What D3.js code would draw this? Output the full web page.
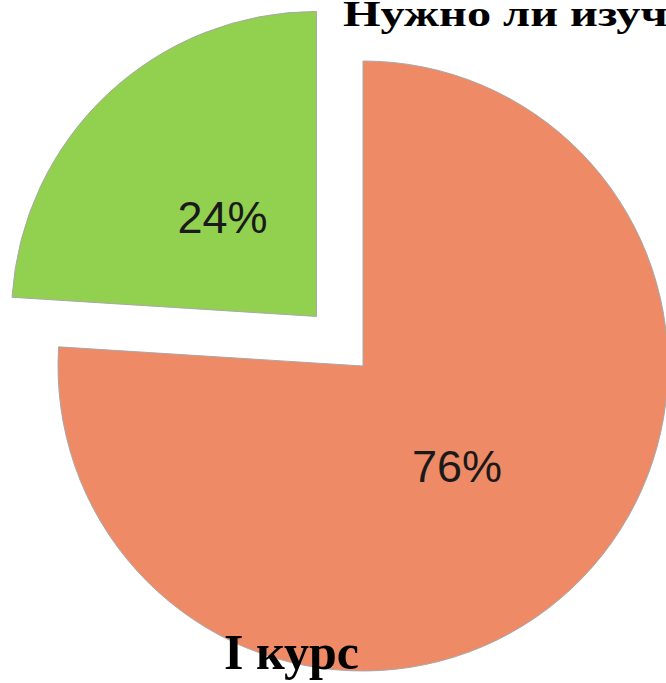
<!DOCTYPE html>
<html>
<head>
<meta charset="utf-8">
<script src="https://cdn.jsdelivr.net/npm/d3@7/dist/d3.min.js"></script>
<style>
  html, body { margin: 0; padding: 0; background: #fff; overflow: hidden; }
  svg { display: block; }
</style>
</head>
<body>
<svg id="chart" width="666" height="683"></svg>
<script>
// Survey answers, first-year students
const categories = ["Да", "Нет"];
const values = [76, 24];
const colors = ["#EE8B66", "#92D050"];
const explode = [0, 1];          // which slice is pulled out
const title = "Нужно ли изучать";
const subtitle = "I курс";

const W = 666, H = 683;
const cx = 363, cy = 366, R = 305, pullOut = 68;

const svg = d3.select("#chart");

const pie = d3.pie().sort(null).value(d => d.value);
const arcs = pie(categories.map((c, i) => ({ name: c, value: values[i], i })));
const arc = d3.arc().innerRadius(0).outerRadius(R);
const labelArc = d3.arc().innerRadius(R * 0.45).outerRadius(R * 0.45);

const total = d3.sum(values);

const g = svg.append("g").attr("transform", `translate(${cx},${cy})`);

const slice = g.selectAll("g.slice")
  .data(arcs)
  .join("g")
  .attr("class", "slice")
  .attr("transform", d => {
    if (!explode[d.data.i]) return null;
    const a = (d.startAngle + d.endAngle) / 2;
    return `translate(${Math.sin(a) * pullOut},${-Math.cos(a) * pullOut})`;
  });

slice.append("path")
  .attr("d", arc)
  .attr("fill", d => colors[d.data.i])
  .attr("stroke", "#a8a8a8")
  .attr("stroke-width", 1);

slice.append("text")
  .attr("transform", d => `translate(${labelArc.centroid(d)})`)
  .attr("text-anchor", "middle")
  .attr("dy", "0.36em")
  .attr("font-family", "Liberation Sans, Arial, sans-serif")
  .attr("font-size", 45)
  .attr("fill", "#1a1a1a")
  .text(d => Math.round(d.data.value / total * 100) + "%");

// Heading runs off the right edge of the slide
svg.append("text")
  .attr("transform", "translate(343,26) scale(1.05,0.8)")
  .attr("font-family", "Liberation Serif, Times New Roman, serif")
  .attr("font-weight", "bold")
  .attr("font-size", 46)
  .attr("fill", "#000")
  .text(title);

svg.append("text")
  .attr("x", 224)
  .attr("y", 669)
  .attr("font-family", "Liberation Serif, Times New Roman, serif")
  .attr("font-weight", "bold")
  .attr("font-size", 50)
  .attr("fill", "#000")
  .text(subtitle);
</script>
</body>
</html>
